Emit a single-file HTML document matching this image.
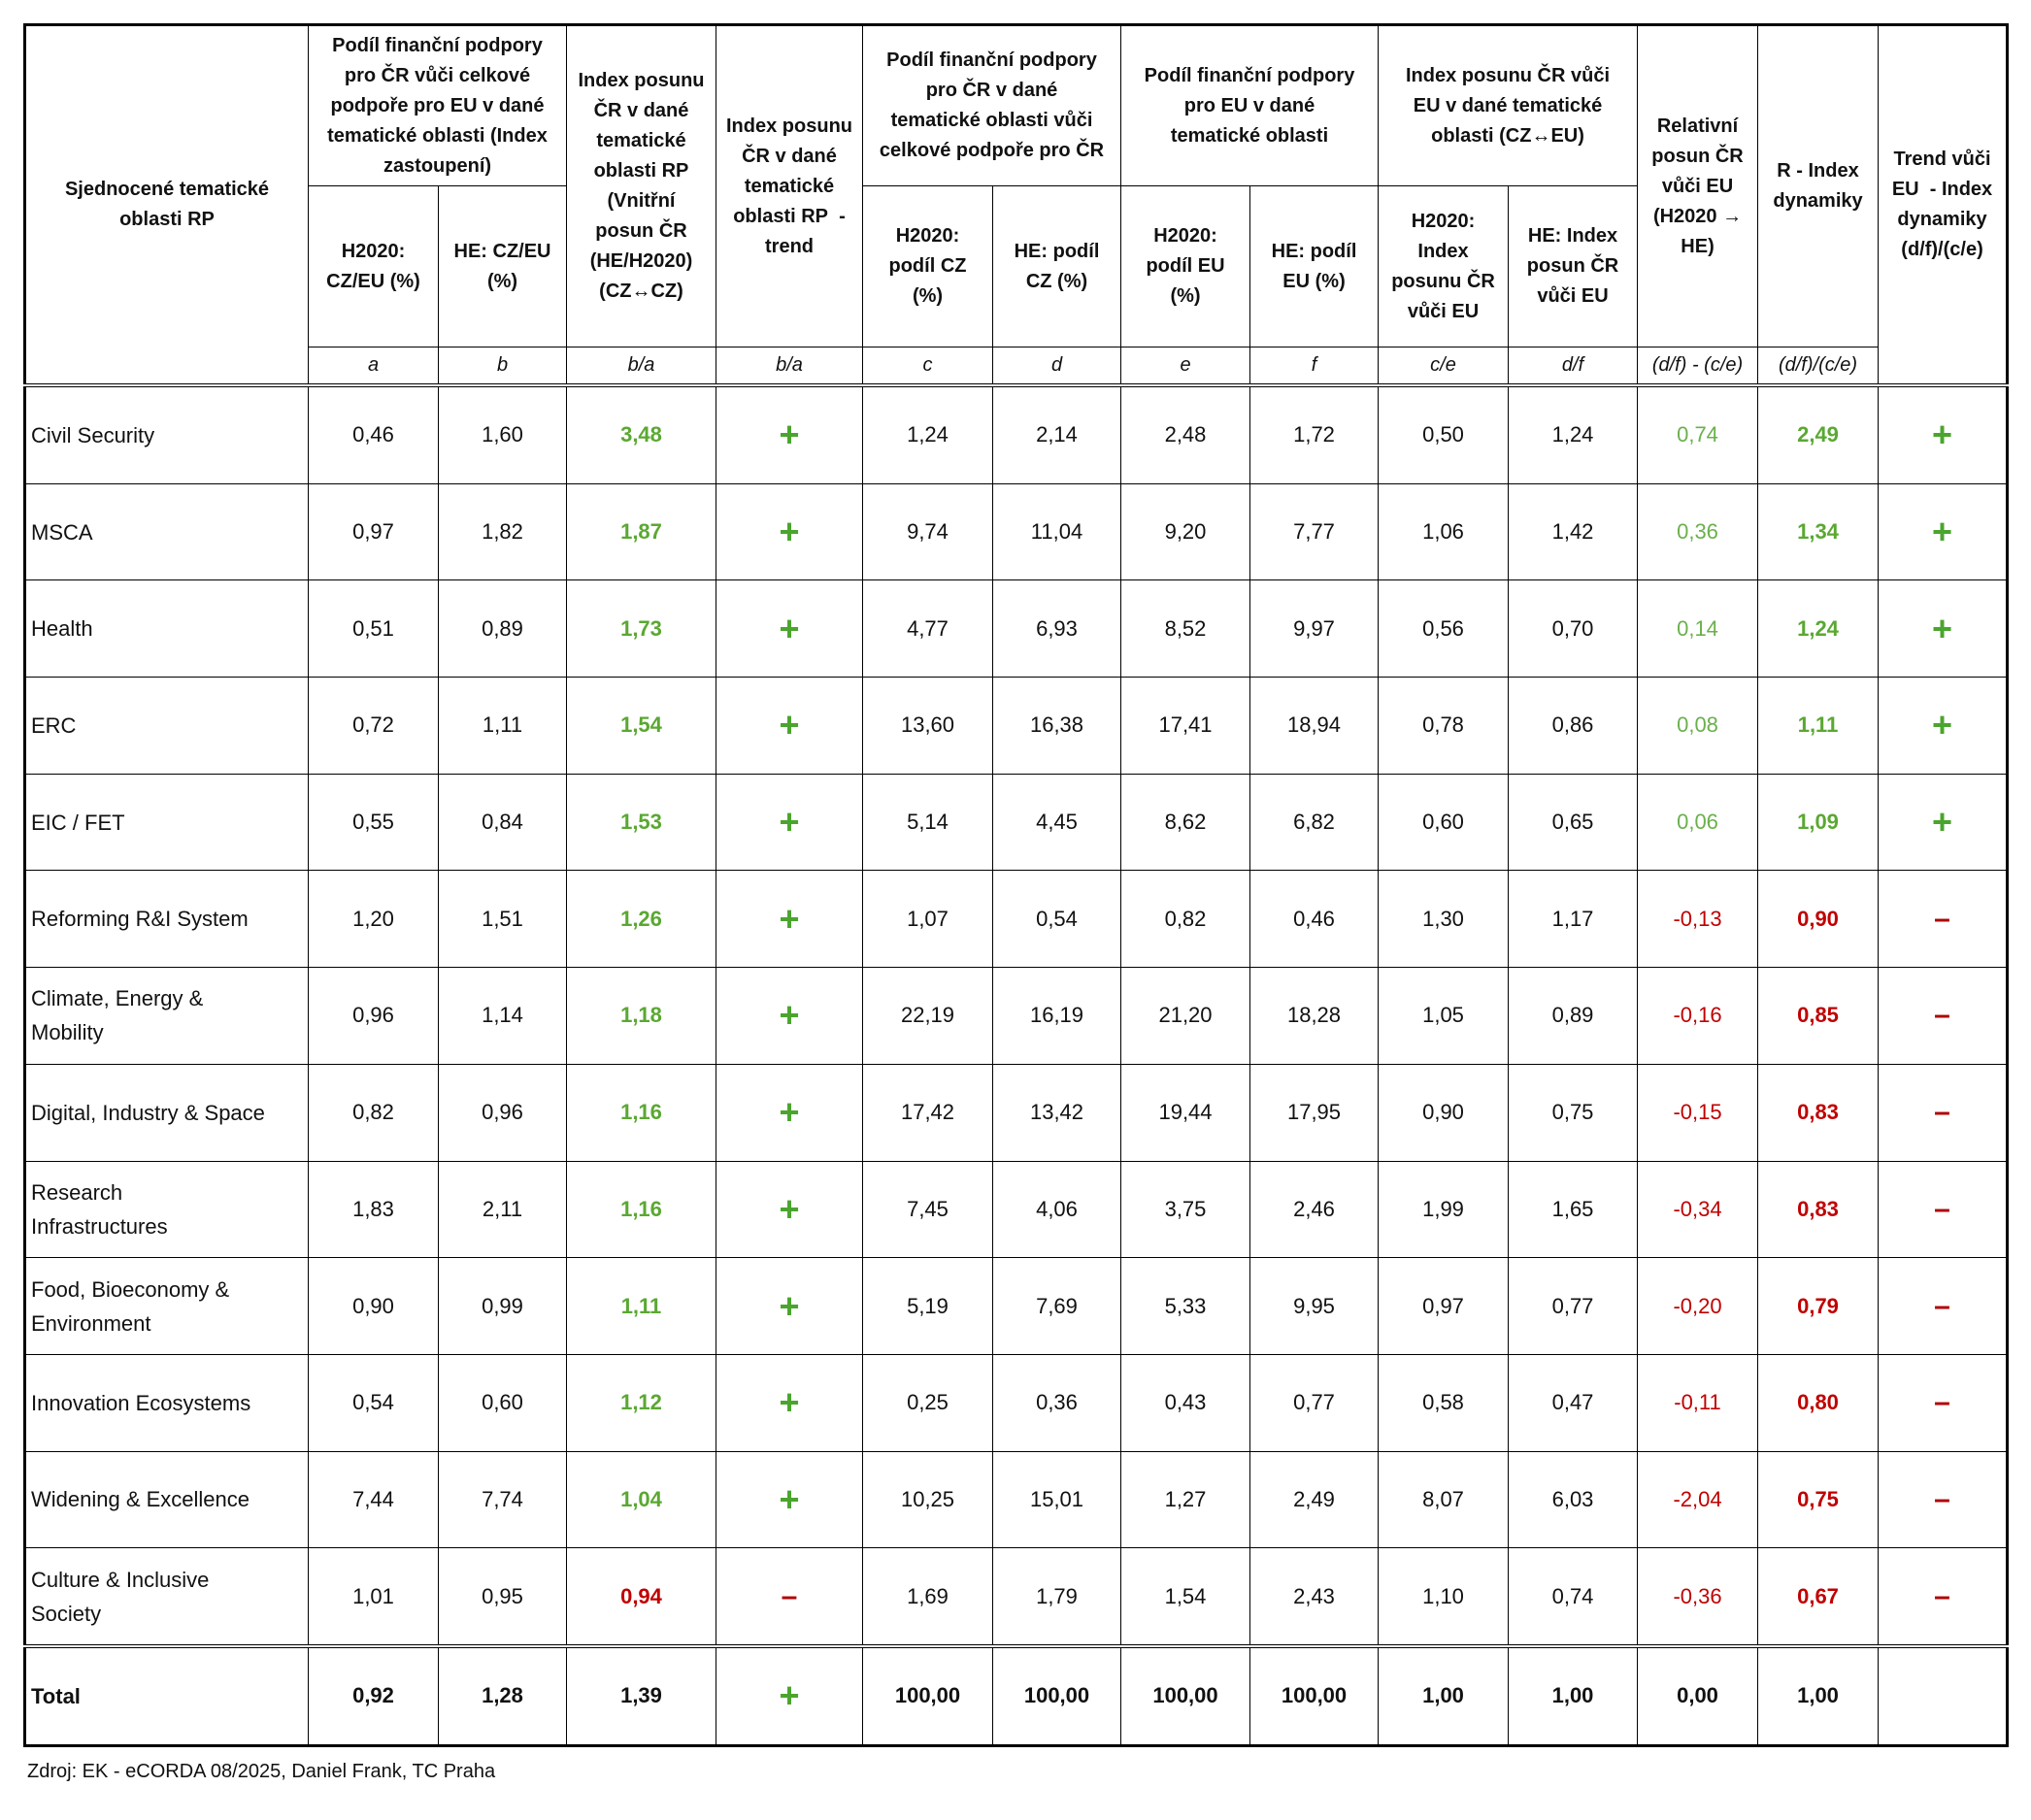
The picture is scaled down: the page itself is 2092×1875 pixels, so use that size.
<!DOCTYPE html>
<html><head><meta charset="utf-8">
<style>
body{margin:0;background:#fff;width:2092px;height:1875px;position:relative;font-family:"Liberation Sans",sans-serif;color:#111;}
table{position:absolute;left:24px;top:24px;border-collapse:collapse;table-layout:fixed;width:2043px;border:3px solid #000;}
td{border:1.5px solid #000;text-align:center;vertical-align:middle;padding:0;font-size:22px;white-space:nowrap;}
.h td{font-weight:bold;font-size:20px;line-height:31px;}
.l td{font-style:italic;font-size:20px;height:37px;}
tr.d td{height:98.7px;}
td.n{text-align:left;padding-left:5px;line-height:35px;}
.g{color:#5aa832;font-weight:bold}
.g2{color:#6ab04c}
.r{color:#c00000;font-weight:bold}
.r2{color:#c00000}
.p{color:#4aa52e;font-size:36px;font-weight:bold}
.m{color:#b00000;font-size:30px;font-weight:bold}
tr.dbl td{border-top:4.5px double #000;}
tr.t td{font-weight:bold;height:98.7px}
.foot{position:absolute;left:28px;top:1814px;font-size:20px;}
</style></head><body>
<table>
<colgroup>
<col style="width:292px"><col style="width:134px"><col style="width:132px"><col style="width:154px"><col style="width:151px"><col style="width:134px"><col style="width:132px"><col style="width:133px"><col style="width:132px"><col style="width:134px"><col style="width:133px"><col style="width:124px"><col style="width:124px"><col style="width:133px">
</colgroup>
<tr class="h" style="height:166px">
<td rowspan="3">Sjednocené tematické<br>oblasti RP</td>
<td colspan="2">Podíl finanční podpory<br>pro ČR vůči celkové<br>podpoře pro EU v dané<br>tematické oblasti (Index<br>zastoupení)</td>
<td rowspan="2">Index posunu<br>ČR v dané<br>tematické<br>oblasti RP<br>(Vnitřní<br>posun ČR<br>(HE/H2020)<br>(CZ↔CZ)</td>
<td rowspan="2">Index posunu<br>ČR v dané<br>tematické<br>oblasti RP&nbsp; -<br>trend</td>
<td colspan="2">Podíl finanční podpory<br>pro ČR v dané<br>tematické oblasti vůči<br>celkové podpoře pro ČR</td>
<td colspan="2">Podíl finanční podpory<br>pro EU v dané<br>tematické oblasti</td>
<td colspan="2">Index posunu ČR vůči<br>EU v dané tematické<br>oblasti (CZ↔EU)</td>
<td rowspan="2">Relativní<br>posun ČR<br>vůči EU<br>(H2020 →<br>HE)</td>
<td rowspan="2">R - Index<br>dynamiky</td>
<td rowspan="3">Trend vůči<br>EU&nbsp; - Index<br>dynamiky<br>(d/f)/(c/e)</td>
</tr>
<tr class="h" style="height:166px">
<td>H2020:<br>CZ/EU (%)</td><td>HE: CZ/EU<br>(%)</td>
<td>H2020:<br>podíl CZ<br>(%)</td><td>HE: podíl<br>CZ (%)</td>
<td>H2020:<br>podíl EU<br>(%)</td><td>HE: podíl<br>EU (%)</td>
<td>H2020:<br>Index<br>posunu ČR<br>vůči EU</td><td>HE: Index<br>posun ČR<br>vůči EU</td>
</tr>
<tr class="l">
<td>a</td><td>b</td><td>b/a</td><td>b/a</td><td>c</td><td>d</td><td>e</td><td>f</td><td>c/e</td><td>d/f</td><td>(d/f) - (c/e)</td><td>(d/f)/(c/e)</td>
</tr>
<tr class="d dbl"><td class="n">Civil Security</td><td>0,46</td><td>1,60</td><td class="g">3,48</td><td class="p">+</td><td>1,24</td><td>2,14</td><td>2,48</td><td>1,72</td><td>0,50</td><td>1,24</td><td class="g2">0,74</td><td class="g">2,49</td><td class="p">+</td></tr>
<tr class="d"><td class="n">MSCA</td><td>0,97</td><td>1,82</td><td class="g">1,87</td><td class="p">+</td><td>9,74</td><td>11,04</td><td>9,20</td><td>7,77</td><td>1,06</td><td>1,42</td><td class="g2">0,36</td><td class="g">1,34</td><td class="p">+</td></tr>
<tr class="d"><td class="n">Health</td><td>0,51</td><td>0,89</td><td class="g">1,73</td><td class="p">+</td><td>4,77</td><td>6,93</td><td>8,52</td><td>9,97</td><td>0,56</td><td>0,70</td><td class="g2">0,14</td><td class="g">1,24</td><td class="p">+</td></tr>
<tr class="d"><td class="n">ERC</td><td>0,72</td><td>1,11</td><td class="g">1,54</td><td class="p">+</td><td>13,60</td><td>16,38</td><td>17,41</td><td>18,94</td><td>0,78</td><td>0,86</td><td class="g2">0,08</td><td class="g">1,11</td><td class="p">+</td></tr>
<tr class="d"><td class="n">EIC / FET</td><td>0,55</td><td>0,84</td><td class="g">1,53</td><td class="p">+</td><td>5,14</td><td>4,45</td><td>8,62</td><td>6,82</td><td>0,60</td><td>0,65</td><td class="g2">0,06</td><td class="g">1,09</td><td class="p">+</td></tr>
<tr class="d"><td class="n">Reforming R&amp;I System</td><td>1,20</td><td>1,51</td><td class="g">1,26</td><td class="p">+</td><td>1,07</td><td>0,54</td><td>0,82</td><td>0,46</td><td>1,30</td><td>1,17</td><td class="r2">-0,13</td><td class="r">0,90</td><td class="m">–</td></tr>
<tr class="d"><td class="n">Climate, Energy &amp;<br>Mobility</td><td>0,96</td><td>1,14</td><td class="g">1,18</td><td class="p">+</td><td>22,19</td><td>16,19</td><td>21,20</td><td>18,28</td><td>1,05</td><td>0,89</td><td class="r2">-0,16</td><td class="r">0,85</td><td class="m">–</td></tr>
<tr class="d"><td class="n">Digital, Industry &amp; Space</td><td>0,82</td><td>0,96</td><td class="g">1,16</td><td class="p">+</td><td>17,42</td><td>13,42</td><td>19,44</td><td>17,95</td><td>0,90</td><td>0,75</td><td class="r2">-0,15</td><td class="r">0,83</td><td class="m">–</td></tr>
<tr class="d"><td class="n">Research<br>Infrastructures</td><td>1,83</td><td>2,11</td><td class="g">1,16</td><td class="p">+</td><td>7,45</td><td>4,06</td><td>3,75</td><td>2,46</td><td>1,99</td><td>1,65</td><td class="r2">-0,34</td><td class="r">0,83</td><td class="m">–</td></tr>
<tr class="d"><td class="n">Food, Bioeconomy &amp;<br>Environment</td><td>0,90</td><td>0,99</td><td class="g">1,11</td><td class="p">+</td><td>5,19</td><td>7,69</td><td>5,33</td><td>9,95</td><td>0,97</td><td>0,77</td><td class="r2">-0,20</td><td class="r">0,79</td><td class="m">–</td></tr>
<tr class="d"><td class="n">Innovation Ecosystems</td><td>0,54</td><td>0,60</td><td class="g">1,12</td><td class="p">+</td><td>0,25</td><td>0,36</td><td>0,43</td><td>0,77</td><td>0,58</td><td>0,47</td><td class="r2">-0,11</td><td class="r">0,80</td><td class="m">–</td></tr>
<tr class="d"><td class="n">Widening &amp; Excellence</td><td>7,44</td><td>7,74</td><td class="g">1,04</td><td class="p">+</td><td>10,25</td><td>15,01</td><td>1,27</td><td>2,49</td><td>8,07</td><td>6,03</td><td class="r2">-2,04</td><td class="r">0,75</td><td class="m">–</td></tr>
<tr class="d"><td class="n">Culture &amp; Inclusive<br>Society</td><td>1,01</td><td>0,95</td><td class="r">0,94</td><td class="m">–</td><td>1,69</td><td>1,79</td><td>1,54</td><td>2,43</td><td>1,10</td><td>0,74</td><td class="r2">-0,36</td><td class="r">0,67</td><td class="m">–</td></tr>
<tr class="t dbl"><td class="n">Total</td><td>0,92</td><td>1,28</td><td>1,39</td><td class="p">+</td><td>100,00</td><td>100,00</td><td>100,00</td><td>100,00</td><td>1,00</td><td>1,00</td><td>0,00</td><td>1,00</td><td></td></tr>
</table>
<div class="foot">Zdroj: EK - eCORDA 08/2025, Daniel Frank, TC Praha</div>
</body></html>
